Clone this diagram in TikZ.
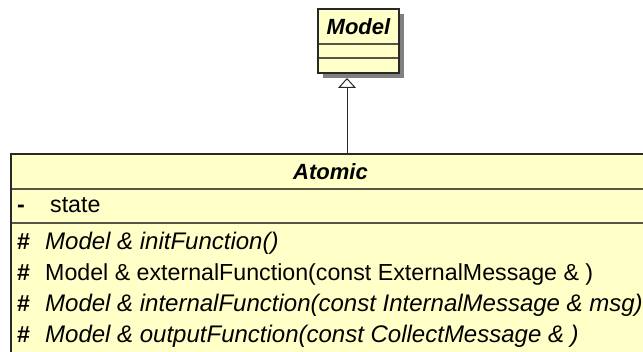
\documentclass[tikz,border=0pt]{standalone}
\usepackage{fontspec}
\setmainfont{Liberation Sans}
\usetikzlibrary{arrows.meta,shapes,backgrounds,positioning}

\definecolor{umlfill}{RGB}{255,255,200}
\definecolor{umlline}{RGB}{40,40,40}
\definecolor{umlsep}{RGB}{85,85,70}
\definecolor{umlshadow}{RGB}{128,128,128}

\begin{document}
\begin{tikzpicture}[x=1pt,y=-1pt,
classname/.style={rectangle,draw=umlline,fill=umlfill,line width=1.5pt,inner sep=0pt,outer sep=0pt,
font=\fontsize{22}{26}\selectfont\bfseries\itshape},
compart/.style={rectangle,draw=umlsep,fill=umlfill,line width=1.2pt,inner sep=0pt,outer sep=0pt},
member/.style={anchor=base west,inner sep=0pt,font=\fontsize{23.2}{26}\selectfont},
abstractmember/.style={member,font=\fontsize{24}{27}\selectfont\itshape},
inherit/.style={draw=umlline,line width=1pt,-{Triangle[open,length=10pt,width=18pt]}}]
    \useasboundingbox (0,0) rectangle (643,352);
    \clip (0,0) rectangle (643,352);
    % superclass
    \node[classname,minimum width=81,minimum height=35] (model) at (358.5,26.5) {Model};
    \node[compart,minimum width=81,minimum height=14,below=0pt of model] (modelattr) {};
    \node[compart,minimum width=81,minimum height=15,below=0pt of modelattr] (modelops) {};
    \draw[umlline,line width=1.5pt] (model.north west) rectangle (modelops.south east);
    % subclass
    \node[classname,minimum width=639,minimum height=35] (atomic) at (330.5,171.5) {Atomic};
    \node[compart,minimum width=639,minimum height=34,below=0pt of atomic] (atomicattr) {};
    \node[compart,minimum width=639,minimum height=140,below=0pt of atomicattr] (atomicops) {};
    \draw[umlline,line width=1.5pt] (atomic.north west) rectangle (atomicops.south east);
    \begin{scope}[on background layer]
    \fill[umlshadow] ([xshift=5pt,yshift=-5pt]model.north west) rectangle ([xshift=5pt,yshift=-5pt]modelops.south east);
    \fill[umlshadow] ([xshift=5pt,yshift=-5pt]atomic.north west) rectangle ([xshift=5pt,yshift=-5pt]atomicops.south east);
    \end{scope}
    % members
    \node[member] (visstate) at (17,213) {\textbf{-}};
    \node[member] (state) at (50,213) {state};
    \node[member] (visinit) at (17,250) {\textbf{\#}};
    \node[abstractmember] (initfn) at (45,250) {Model \& initFunction()};
    \node[member] (visext) at (17,281) {\textbf{\#}};
    \node[member] (extfn) at (45,281) {Model \& externalFunction(const ExternalMessage \& )};
    \node[member] (visint) at (17,312) {\textbf{\#}};
    \node[abstractmember] (intfn) at (45,312) {Model \& internalFunction(const InternalMessage \& msg)};
    \node[member] (visout) at (17,343) {\textbf{\#}};
    \node[abstractmember] (outfn) at (45,343) {Model \& outputFunction(const CollectMessage \& )};
    % generalization
    \coordinate (genbase) at (347,154);
    \coordinate (gentip) at (347,78);
    \draw[inherit] (genbase) -- (gentip);
\end{tikzpicture}
\end{document}
